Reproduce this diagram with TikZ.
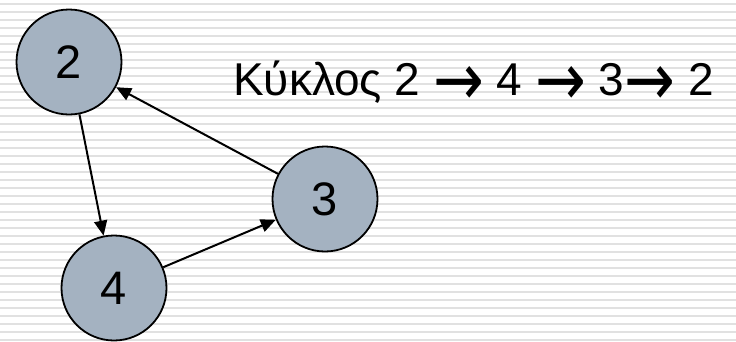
\documentclass[tikz,border=0pt]{standalone}
\usepackage{fontspec}
\setmainfont{Liberation Sans}
\newfontfamily\arrowfont{DejaVu Sans}
\usetikzlibrary{arrows.meta}
\definecolor{VertexFill}{HTML}{A4B2C1}
\definecolor{StripeGray}{HTML}{E1E1E1}
\newcommand{\cyclearrow}{\raisebox{-10pt}{\scalebox{0.82}[1]{\fontsize{74}{74}\arrowfont →}}}

\begin{document}
\begin{tikzpicture}[
    x=1pt, y=-1pt,
    vertex/.style={circle, draw=black, line width=1.8pt, fill=VertexFill, minimum size=105pt, inner sep=0pt, font=\fontsize{47}{50}\selectfont},
    arr/.style={-{Triangle[length=15pt, width=13pt]}, draw=black, line width=2pt}
  ]
    % striped page background
    \useasboundingbox (0,0) rectangle (736,341);
    \fill[white] (0,0) rectangle (736,341);
    \foreach \y in {3,11,...,339}
      \fill[StripeGray] (0,\y) rectangle (736,\y+2);

    \node[vertex] (v2) at (69,62) {2};
    \node[vertex] (v3) at (325,199) {3};
    \node[vertex] (v4) at (114,288) {4};

    \node[anchor=base west, inner sep=0pt, font=\fontsize{46}{50}\selectfont] (cycle) at (233,95)
      {Κύκλος 2 \cyclearrow{} 4 \cyclearrow{} 3\cyclearrow{} 2};

    \draw[arr] (v2) -- (v4);
    \draw[arr] (v4) -- (v3);
    \draw[arr] (v3) -- (v2);
\end{tikzpicture}
\end{document}
